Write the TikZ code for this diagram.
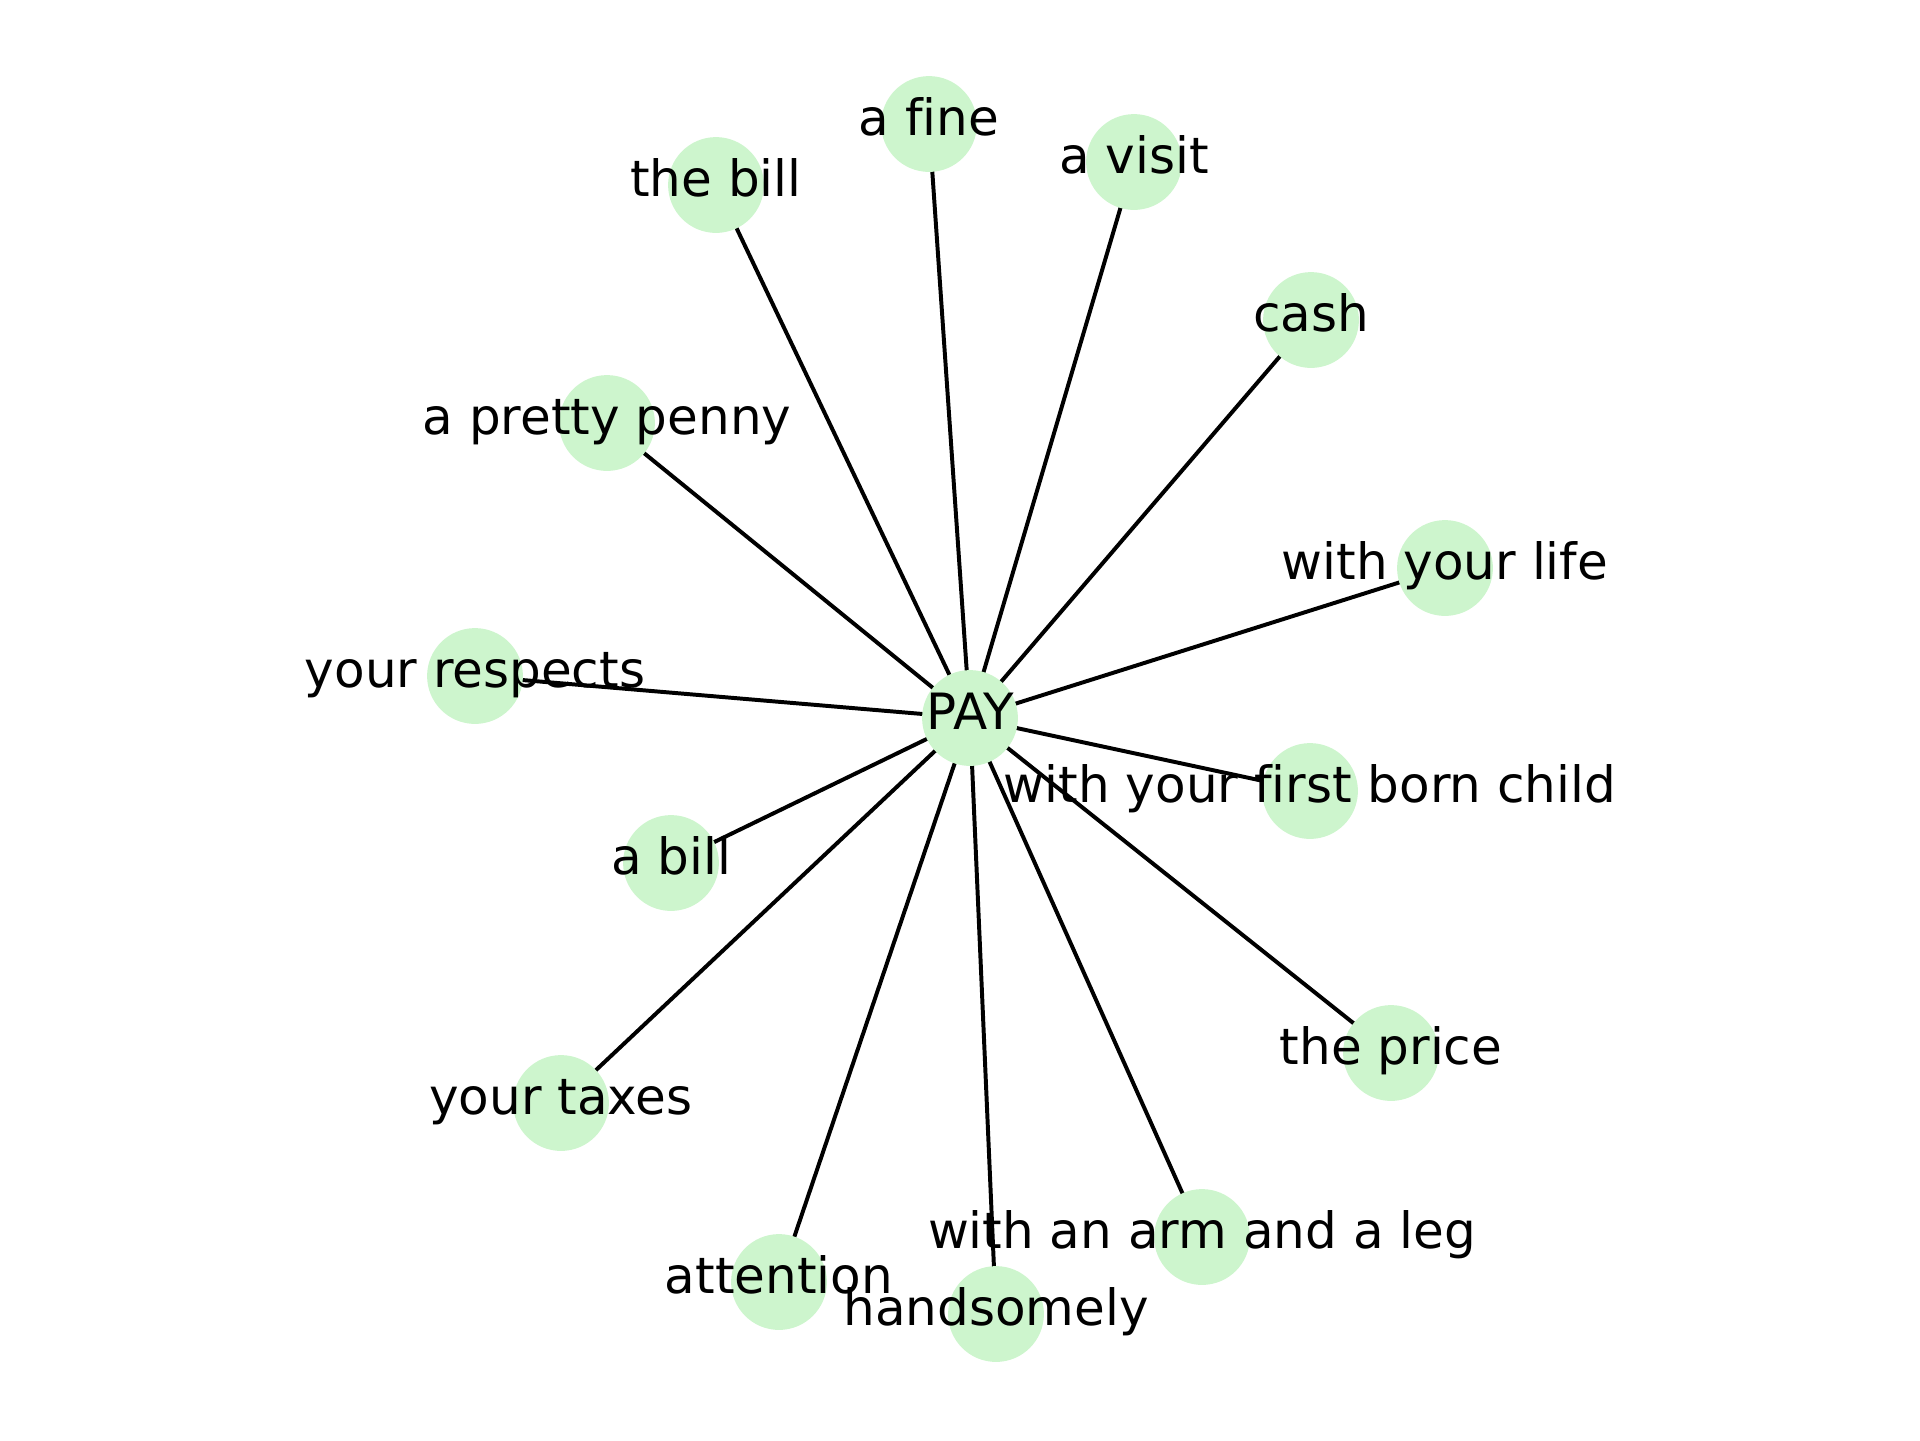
\documentclass[tikz,border=0pt]{standalone}
\usepackage{fontspec}
\setmainfont[Ligatures=NoCommon]{DejaVu Sans}
\definecolor{nodegreen}{RGB}{205,245,205}
\begin{document}
\begin{tikzpicture}[x=0.24pt,y=-0.24pt,
  dot/.style={circle,fill=nodegreen,minimum size=23pt,inner sep=0pt},
  lbl/.style={font=\fontsize{12}{14}\selectfont,inner sep=0pt,anchor=center,text height=0.75em,text depth=0.22em},
  edge/.style={line width=0.95pt,black}]
\useasboundingbox (0,0) rectangle (1920,1440);
\coordinate (PAY) at (970,718);
\coordinate (fine) at (929,124);
\coordinate (thebill) at (716,185);
\coordinate (visit) at (1134,162);
\coordinate (cash) at (1311,320);
\coordinate (penny) at (607,423);
\coordinate (life) at (1445,568);
\coordinate (respects) at (475,676);
\coordinate (child) at (1310,791);
\coordinate (abill) at (671,863);
\coordinate (price) at (1391,1053);
\coordinate (taxes) at (561,1103);
\coordinate (arm) at (1202,1237);
\coordinate (attention) at (779,1282);
\coordinate (hand) at (996,1314);
\foreach \n in {fine,thebill,visit,cash,penny,life,respects,child,abill,price,taxes,arm,attention,hand}
  \draw[edge] (PAY) -- (\n);
\foreach \n in {PAY,fine,thebill,visit,cash,penny,life,respects,child,abill,price,taxes,arm,attention,hand}
  \node[dot] (c\n) at (\n) {};
\node[lbl] (tPAY) at (PAY) {PAY};
\node[lbl] (tfine) at (fine) {a fine};
\node[lbl] (tthebill) at (thebill) {the bill};
\node[lbl] (tvisit) at (visit) {a visit};
\node[lbl] (tcash) at (cash) {cash};
\node[lbl] (tpenny) at (penny) {a pretty penny};
\node[lbl] (tlife) at (life) {with your life};
\node[lbl] (trespects) at (respects) {your respects};
\node[lbl] (tchild) at (child) {with your first born child};
\node[lbl] (tabill) at (abill) {a bill};
\node[lbl] (tprice) at (price) {the price};
\node[lbl] (ttaxes) at (taxes) {your taxes};
\node[lbl] (tarm) at (arm) {with an arm and a leg};
\node[lbl] (tattention) at (attention) {attention};
\node[lbl] (thand) at (hand) {handsomely};
\end{tikzpicture}
\end{document}
